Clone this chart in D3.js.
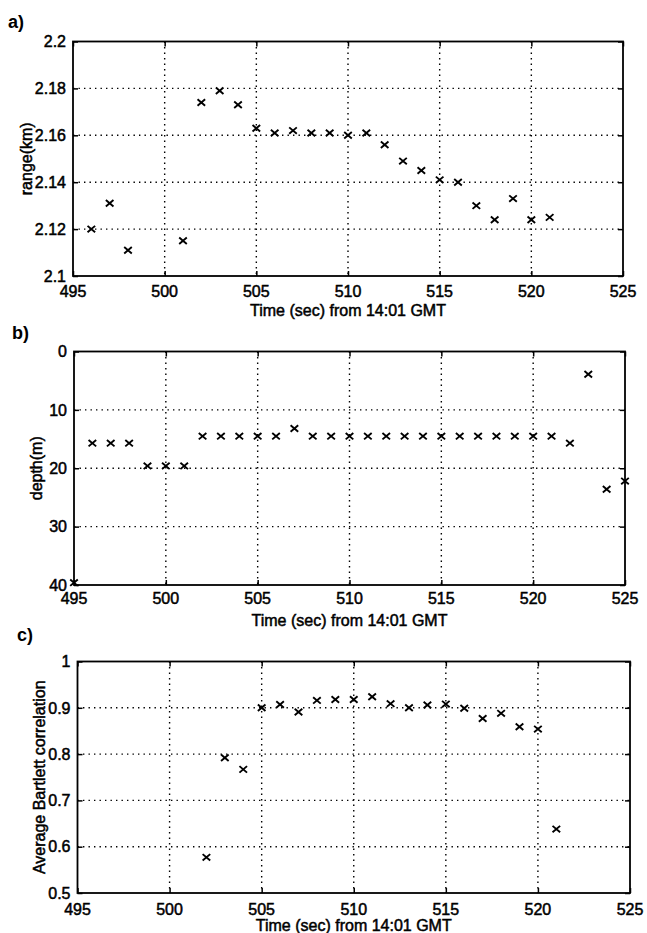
<!DOCTYPE html>
<html>
<head>
<meta charset="utf-8">
<script src="https://cdn.jsdelivr.net/npm/d3@7"></script>
<style>
  body { margin: 0; background: #fff; }
  svg text { font-family: "Liberation Sans", Arial, sans-serif; fill: #000; }
  .lbl { font-size: 16px; stroke: #000; stroke-width: 0.5px; }
  .grid line { stroke: #000; stroke-width: 1.4px; stroke-dasharray: 1.4,4.1; }
  .frame { fill: none; stroke: #000; stroke-width: 1.8px; }
  .mark { stroke: #000; stroke-width: 1.9px; fill: none; }
</style>
</head>
<body>
<div id="chart-area"></div>
<script>
// time axis, seconds from 14:01 GMT
let xTicks = [495, 500, 505, 510, 515, 520, 525];

// a) range (km)
let rangeTime = [496, 497, 498, 501, 502, 503, 504, 505, 506, 507, 508, 509, 510, 511, 512, 513, 514, 515, 516, 517, 518, 519, 520, 521];
let rangeKm = [2.120, 2.131, 2.111, 2.115, 2.174, 2.179, 2.173, 2.163, 2.161, 2.162, 2.161, 2.161, 2.160, 2.161, 2.156, 2.149, 2.145, 2.141, 2.140, 2.130, 2.124, 2.133, 2.124, 2.125];
let rangeTicks = [2.1, 2.12, 2.14, 2.16, 2.18, 2.2];
let rangeTickLabels = ["2.1", "2.12", "2.14", "2.16", "2.18", "2.2"];

// b) depth (m)
let depthTime = [495, 496, 497, 498, 499, 500, 501, 502, 503, 504, 505, 506, 507, 508, 509, 510, 511, 512, 513, 514, 515, 516, 517, 518, 519, 520, 521, 522, 523, 524, 525];
let depthM = [39.6, 15.7, 15.7, 15.7, 19.6, 19.6, 19.6, 14.5, 14.5, 14.5, 14.5, 14.5, 13.2, 14.5, 14.5, 14.5, 14.5, 14.5, 14.5, 14.5, 14.5, 14.5, 14.5, 14.5, 14.5, 14.5, 14.5, 15.7, 3.9, 23.6, 22.2];
let depthTicks = [0, 10, 20, 30, 40];
let depthTickLabels = ["0", "10", "20", "30", "40"];

// c) average Bartlett correlation
let corrTime = [502, 503, 504, 505, 506, 507, 508, 509, 510, 511, 512, 513, 514, 515, 516, 517, 518, 519, 520, 521];
let corrVal = [0.577, 0.792, 0.767, 0.900, 0.907, 0.891, 0.916, 0.918, 0.918, 0.924, 0.909, 0.900, 0.906, 0.908, 0.899, 0.877, 0.888, 0.859, 0.854, 0.638];
let corrTicks = [0.5, 0.6, 0.7, 0.8, 0.9, 1];
let corrTickLabels = ["0.5", "0.6", "0.7", "0.8", "0.9", "1"];

let xTitle = "Time (sec) from 14:01 GMT";

let width = 647, height = 933;

let svg = d3.select("#chart-area").append("svg")
    .attr("width", width)
    .attr("height", height);

// panel boxes follow the (slightly skewed) scan
let panels = [
    {tag: "a)", tagX: 8, tagY: 28, left: 73, right: 623, top: 41.5, bottom: 276,
     yDomain: [2.1, 2.2], yTicks: rangeTicks, yLabels: rangeTickLabels,
     xs: rangeTime, ys: rangeKm, yTitle: "range(km)", yTitleX: 32,
     tickY: 21, titleY: 40},
    {tag: "b)", tagX: 12, tagY: 339, left: 74, right: 625, top: 351.5, bottom: 585,
     yDomain: [40, 0], yTicks: depthTicks, yLabels: depthTickLabels,
     xs: depthTime, ys: depthM, yTitle: "depth(m)", yTitleX: 42,
     tickY: 19, titleY: 41},
    {tag: "c)", tagX: 17, tagY: 641, left: 77.5, right: 630, top: 661.5, bottom: 893,
     yDomain: [0.5, 1], yTicks: corrTicks, yLabels: corrTickLabels,
     xs: corrTime, ys: corrVal, yTitle: "Average Bartlett correlation", yTitleX: 45,
     tickY: 22, titleY: 38}
];

panels.forEach(drawPanel);

function drawPanel(p){
    let x = d3.scaleLinear().domain([495, 525]).range([p.left, p.right]);
    let y = d3.scaleLinear().domain(p.yDomain).range([p.bottom, p.top]);

    let g = svg.append("g");

    // dotted grid on the inner ticks
    let grid = g.append("g").attr("class", "grid");
    grid.selectAll(".vg")
        .data(xTicks.slice(1, -1))
        .enter().append("line")
        .attr("x1", d => x(d)).attr("x2", d => x(d))
        .attr("y1", p.top).attr("y2", p.bottom);
    let innerY = p.yTicks.filter(d => d != p.yDomain[0] && d != p.yDomain[1]);
    grid.selectAll(".hg")
        .data(innerY)
        .enter().append("line")
        .attr("x1", p.left).attr("x2", p.right)
        .attr("y1", d => y(d)).attr("y2", d => y(d));

    // inward ticks on all four sides
    let xAxisB = d3.axisBottom(x).tickValues(xTicks).tickSizeInner(-5).tickSizeOuter(0).tickFormat("");
    let xAxisT = d3.axisTop(x).tickValues(xTicks).tickSizeInner(-5).tickSizeOuter(0).tickFormat("");
    let yAxisL = d3.axisLeft(y).tickValues(p.yTicks).tickSizeInner(-5).tickSizeOuter(0).tickFormat("");
    let yAxisR = d3.axisRight(y).tickValues(p.yTicks).tickSizeInner(-5).tickSizeOuter(0).tickFormat("");
    [[xAxisB, "translate(0," + p.bottom + ")"], [xAxisT, "translate(0," + p.top + ")"],
     [yAxisL, "translate(" + p.left + ",0)"], [yAxisR, "translate(" + p.right + ",0)"]]
        .forEach(a => {
            let ag = g.append("g").attr("transform", a[1]).call(a[0]);
            ag.select(".domain").remove();
            ag.selectAll("line").attr("stroke", "#000").attr("stroke-width", 1.5);
        });

    g.append("rect")
        .attr("class", "frame")
        .attr("x", p.left).attr("y", p.top)
        .attr("width", p.right - p.left).attr("height", p.bottom - p.top);

    // tick labels
    g.selectAll(".xl")
        .data(xTicks)
        .enter().append("text")
        .attr("class", "lbl")
        .attr("x", d => x(d))
        .attr("y", p.bottom + p.tickY)
        .attr("text-anchor", "middle")
        .text(d => d);

    g.selectAll(".yl")
        .data(p.yTicks)
        .enter().append("text")
        .attr("class", "lbl")
        .attr("x", p.left - 7)
        .attr("y", d => y(d))
        .attr("dy", "0.36em")
        .attr("text-anchor", "end")
        .text((d, i) => p.yLabels[i]);

    g.append("text")
        .attr("class", "lbl")
        .attr("x", (p.left + p.right) / 2)
        .attr("y", p.bottom + p.titleY)
        .attr("text-anchor", "middle")
        .text(xTitle);

    g.append("text")
        .attr("class", "lbl")
        .attr("transform", "translate(" + p.yTitleX + "," + ((p.top + p.bottom) / 2) + ") rotate(-90)")
        .attr("text-anchor", "middle")
        .text(p.yTitle);

    g.append("text")
        .attr("x", p.tagX).attr("y", p.tagY)
        .style("font-size", "18px").style("font-weight", "bold")
        .text(p.tag);

    // x markers
    let pts = p.xs.map((t, i) => [t, p.ys[i]]);
    let s = 3.8;
    g.selectAll(".mark")
        .data(pts)
        .enter().append("path")
        .attr("class", "mark")
        .attr("d", d => {
            let cx = x(d[0]), cy = y(d[1]);
            return "M" + (cx - s) + "," + (cy - s * 0.85) + "L" + (cx + s) + "," + (cy + s * 0.85) +
                   "M" + (cx - s) + "," + (cy + s * 0.85) + "L" + (cx + s) + "," + (cy - s * 0.85);
        });
}
</script>
</body>
</html>
